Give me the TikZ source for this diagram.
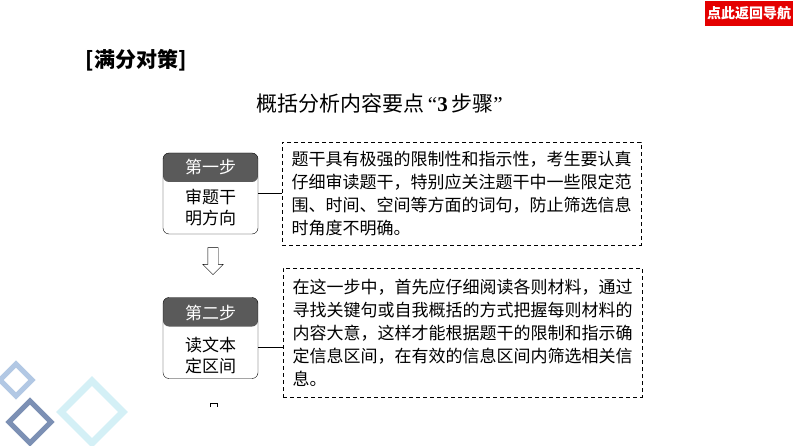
\documentclass[tikz,border=0pt]{standalone}
\usepackage{fontspec}
\setmainfont{Liberation Serif}
\newfontfamily\cjk{Noto Sans CJK SC}
\usetikzlibrary{shapes.arrows}

\definecolor{headgray}{RGB}{90,90,90}
\definecolor{navred}{RGB}{228,0,0}
\definecolor{diamondA}{RGB}{178,200,228}
\definecolor{diamondB}{RGB}{124,144,180}
\definecolor{diamondC}{RGB}{212,240,246}

\tikzset{
  stepbox/.style={draw, rounded corners=6pt, minimum width=95pt, minimum height=81pt, inner sep=0pt,
    path picture={\fill[headgray] (path picture bounding box.north west) rectangle ([yshift=-29pt]path picture bounding box.north east);}},
  headtext/.style={text=white, inner sep=0pt, font=\cjk\fontsize{17}{20}\selectfont},
  bodytext/.style={align=center, inner sep=0pt, font=\cjk\fontsize{17}{21}\selectfont},
  notebox/.style={draw, dash pattern=on 4pt off 3pt, minimum width=359pt, align=left, inner sep=0pt, font=\cjk\fontsize{17}{23}\selectfont},
  downarrow/.style={single arrow, draw, shape border rotate=270, minimum height=27pt, inner sep=5pt, single arrow head extend=5pt},
  navbox/.style={fill=navred, text=white, minimum width=88pt, minimum height=25pt, inner sep=0pt, font=\cjk\bfseries\fontsize{14}{14}\selectfont}
}

\begin{document}
\begin{tikzpicture}[x=1pt,y=-1pt]
\clip (0,0) rectangle (794,446);
\fill[white] (0,0) rectangle (794,446);

\node[navbox] (nav) at (749,13.5) {点此返回导航};
\node[font=\cjk\bfseries\fontsize{21}{21}\selectfont] (tag) at (136,60) {[满分对策]};
\node[font=\cjk\fontsize{21}{21}\selectfont] (title) at (379.5,103) {概括分析内容要点\,{\rmfamily“\textbf{3}}\,步骤{\rmfamily”}};

\node[stepbox] (step1) at (210.5,193.5) {};
\node[headtext] (head1) at (210.5,167.5) {第一步};
\node[bodytext] (body1) at (210.5,208) {审题干\\明方向};
\node[notebox, minimum height=103pt] (note1) at (461.5,193.5) {题干具有极强的限制性和指示性，考生要认真\\仔细审读题干，特别应关注题干中一些限定范\\围、时间、空间等方面的词句，防止筛选信息\\时角度不明确。};
\draw (step1.east) -- (note1.west);

\node[downarrow] (down1) at (213,258.5) {};

\node[stepbox] (step2) at (210.5,338) {};
\node[headtext] (head2) at (210.5,313) {第二步};
\node[bodytext] (body2) at (210.5,356) {读文本\\定区间};
\node[notebox, minimum height=129pt] (note2) at (462.5,332.5) {在这一步中，首先应仔细阅读各则材料，通过\\寻找关键句或自我概括的方式把握每则材料的\\内容大意，这样才能根据题干的限制和指示确\\定信息区间，在有效的信息区间内筛选相关信\\息。};
\coordinate (link2) at ([yshift=-9pt]step2.east);
\draw (link2) -- (link2 -| note2.west);

\draw (210,407) -- (210,403) -- (217,403) -- (217,407);

\draw[diamondC, line width=7pt] (92,381) -- (123,412) -- (92,443) -- (61,412) -- cycle;
\draw[diamondB, line width=5pt] (30,401) -- (51,422) -- (30,443) -- (9,422) -- cycle;
\draw[diamondA, line width=5pt] (16,364) -- (32,380) -- (16,396) -- (0,380) -- cycle;
\end{tikzpicture}
\end{document}
